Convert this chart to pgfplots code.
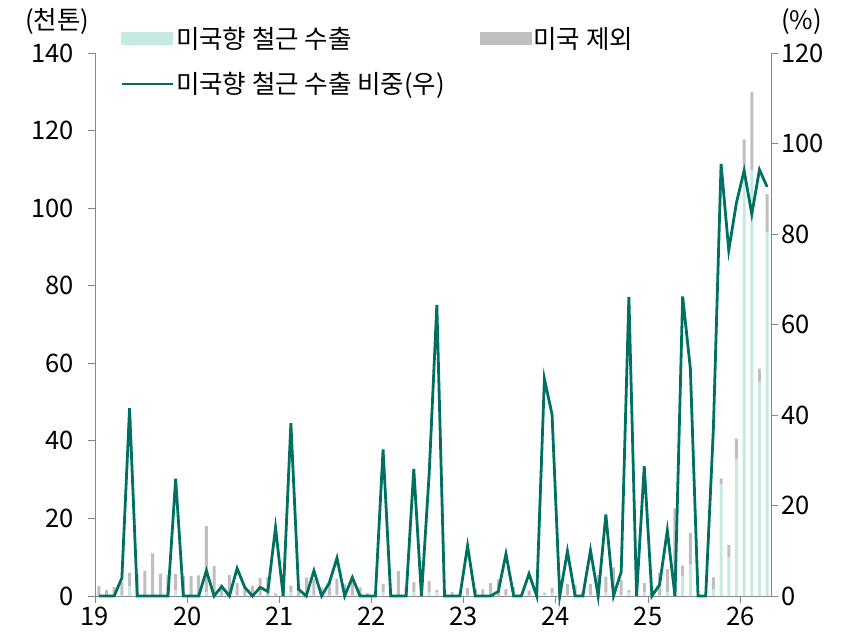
\documentclass[border=0pt]{standalone}
\usepackage{pgfplots}
\pgfplotsset{compat=1.18}
\usepackage{pgfplotstable}
\usepackage{fontspec}
\setmainfont{Noto Sans CJK KR}
\definecolor{usbar}{RGB}{197,234,227}
\definecolor{exbar}{RGB}{191,191,191}
\definecolor{shline}{RGB}{0,112,99}
\definecolor{axgray}{RGB}{134,134,134}

\pgfplotstableread{
x us ex sh
0 0 2.6 0
1 0 1.5 0
2 0 2.3 0
3 0.14 3.46 4.0
4 2.49 3.51 41.5
5 0 5.8 0
6 0 6.5 0
7 0 11.0 0
8 0 5.8 0
9 0 5.4 0
10 1.48 4.22 25.9
11 0 5.1 0
12 0 5.2 0
13 0 5.3 0
14 1.01 16.99 5.6
15 0 7.7 0
16 0.06 2.94 2.1
17 0 5.4 0
18 0.2 3.1 6.1
19 0.04 2.06 1.9
20 0 2.7 0
21 0.09 4.61 1.9
22 0.05 4.75 1.0
23 0.11 0.59 15.1
24 0 0.5 0
25 1.03 1.67 38.2
26 0.02 1.48 1.5
27 0 4.8 0
28 0.24 4.06 5.6
29 0 2.2 0
30 0.1 3.2 2.9
31 0.38 4.12 8.4
32 0 3.0 0
33 0.18 4.32 4.1
34 0 2.2 0
35 0 0.7 0
36 0 0.3 0
37 1.0 2.1 32.4
38 0 0.5 0
39 0 6.4 0
40 0 2.6 0
41 1.01 2.59 28.1
42 0 0.3 0
43 1.05 2.85 27.0
44 1.03 0.57 64.3
45 0 1.0 0
46 0 1.0 0
47 0 0.3 0
48 0.22 1.78 11.1
49 0 1.8 0
50 0 1.7 0
51 0 3.3 0
52 0.04 4.26 1.0
53 0.17 1.63 9.3
54 0 2.3 0
55 0 0.3 0
56 0.07 1.33 4.9
57 0 0.3 0
58 0.43 0.47 48.0
59 0.8 1.2 40.1
60 0 0.3 0
61 0.31 2.79 9.9
62 0 2.8 0
63 0 1.0 0
64 0.31 2.79 10.1
65 0 5.4 0
66 0.9 4.1 18.0
67 0 7.4 0
68 0.22 3.88 5.3
69 0.99 0.51 66.1
70 0 0.3 0
71 0.95 2.35 28.7
72 0 1.7 0
73 0.15 5.85 2.5
74 1.0 5.9 14.5
75 0 22.6 0
76 5.16 2.64 66.2
77 8.2 8.1 50.3
78 0 0.2 0
79 0 0.4 0
80 1.78 3.02 37.0
81 28.94 1.36 95.5
82 10.08 3.12 76.4
83 35.28 5.32 86.9
84 110.64 7.06 94.0
85 109.72 20.28 84.4
86 55.2 3.4 94.2
87 93.74 9.96 90.4
}\data

\begin{document}
\begin{tikzpicture}[font=\fontsize{25.5bp}{30bp}\selectfont]
\path[use as bounding box] (-95bp,-41bp) rectangle (756bp,596bp);
\begin{axis}[
  at={(0,0)}, anchor=south west, scale only axis,
  width=676bp, height=543bp,
  xmin=-0.5, xmax=87.5, ymin=0, ymax=140,
  ybar stacked, bar width=3bp,
  axis x line*=bottom, axis y line*=left,
  axis line style={axgray, line width=0.9bp, -},
  tick align=outside, major tick length=7bp,
  tick style={axgray, line width=0.9bp},
  xtick={-0.5,11.5,23.5,35.5,47.5,59.5,71.5,83.5},
  xticklabels={19,20,21,22,23,24,25,26},
  ytick={0,20,40,60,80,100,120,140},
  /pgf/number format/assume math mode=true,
  yticklabel style={xshift=-11bp},
  clip=false,
]
\addplot[fill=usbar, draw=none] table[x=x, y=us] {\data};
\addplot[fill=exbar, draw=none] table[x=x, y=ex] {\data};
\node at (axis description cs:-0.056,1.058) {(천톤)};
\end{axis}
\begin{axis}[
  at={(0,0)}, anchor=south west, scale only axis,
  width=676bp, height=543bp,
  xmin=-0.5, xmax=87.5, ymin=0, ymax=120,
  axis x line=none, axis y line*=right,
  axis line style={axgray, line width=0.9bp, -},
  tick align=outside, major tick length=7bp,
  tick style={axgray, line width=0.9bp},
  ytick={0,20,40,60,80,100,120},
  /pgf/number format/assume math mode=true,
  legend columns=2,
  legend cell align=left,
  legend style={draw=none, fill=none, inner sep=0pt,
    at={(0.037,1.052)}, anchor=north west,
    /tikz/row sep=19bp,
    /tikz/column 2/.style={column sep=33bp},
    nodes={inner sep=2bp}},
  clip=false,
]
\addlegendimage{legend image code/.code={\fill[usbar] (0bp,-6bp) rectangle (51bp,6bp);}}
\addlegendentry{미국향 철근 수출}
\addlegendimage{legend image code/.code={\fill[exbar] (0bp,-6bp) rectangle (51bp,6bp);}}
\addlegendentry{미국 제외}
\addplot[shline, line width=2.8bp, mark=none,
  legend image code/.code={\draw[shline, line width=2.8bp] (0bp,0bp) -- (51bp,0bp);}]
  table[x=x, y=sh] {\data};
\addlegendentry{미국향 철근 수출 비중(우)}
\node at (axis description cs:1.045,1.058) {(\%)};
\end{axis}
\end{tikzpicture}
\end{document}
